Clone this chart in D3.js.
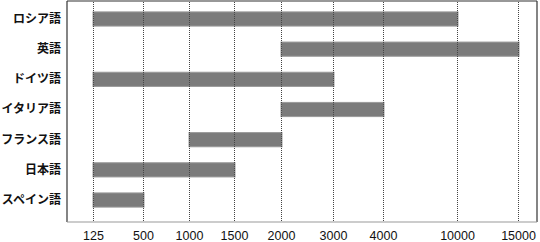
<!DOCTYPE html>
<html>
<head>
<meta charset="utf-8">
<script src="https://cdn.jsdelivr.net/npm/d3@7/dist/d3.min.js"></script>
<style>
html,body{margin:0;padding:0;background:#fff;}
svg{display:block;}
</style>
</head>
<body>
<svg id="chart" width="540" height="242"></svg>
<script>
// ---- data ----
const languages = ["ロシア語","英語","ドイツ語","イタリア語","フランス語","日本語","スペイン語"];
const lowValues  = [125, 2000, 125, 2000, 1000, 125, 125];
const highValues = [10000, 15000, 3000, 4000, 2000, 1500, 500];
const tickValues = [125, 500, 1000, 1500, 2000, 3000, 4000, 10000, 15000];

// ---- layout ----
const W = 540, H = 242;
const box = {left: 67, right: 537, top: 1, bottom: 222};
const xStart = 93, xEnd = 518;
// relative spacing between consecutive ticks (layout weights, not data)
const tickWeights = [50, 46, 45, 47, 52, 50, 74, 61];

const cum = [0];
tickWeights.forEach(w => cum.push(cum[cum.length-1] + w));
const total = cum[cum.length-1];
const x = d3.scaleLinear()
  .domain(tickValues)
  .range(cum.map(c => xStart + (xEnd - xStart) * c / total));

const y = d3.scaleBand()
  .domain(languages)
  .range([3.9, 215.1])
  .paddingInner(0.53)
  .paddingOuter(0.265);

const svg = d3.select("#chart");

// plot box
svg.append("line").attr("x1", box.left).attr("x2", box.left)
  .attr("y1", box.top).attr("y2", box.bottom).attr("stroke", "#333").attr("stroke-width", 1.2);
svg.append("line").attr("x1", box.left).attr("x2", box.right)
  .attr("y1", box.top).attr("y2", box.top).attr("stroke", "#333").attr("stroke-width", 1.2);
svg.append("line").attr("x1", box.right).attr("x2", box.right)
  .attr("y1", box.top).attr("y2", box.bottom).attr("stroke", "#333").attr("stroke-width", 1.2);
svg.append("line").attr("x1", box.left).attr("x2", box.right)
  .attr("y1", box.bottom).attr("y2", box.bottom).attr("stroke", "#999").attr("stroke-width", 1.2);

// bars
const rows = languages.map((l, i) => ({lang: l, lo: lowValues[i], hi: highValues[i]}));
svg.append("g").selectAll("rect").data(rows).join("rect")
  .attr("x", d => x(d.lo))
  .attr("y", d => y(d.lang))
  .attr("width", d => x(d.hi) - x(d.lo) + 1)
  .attr("height", y.bandwidth())
  .attr("fill", "#7b7b7b")
  .attr("stroke", "#9a9a9a")
  .attr("stroke-width", 1);

// gridlines (drawn over bars)
svg.append("g").selectAll("line").data(tickValues).join("line")
  .attr("x1", d => Math.round(x(d)) + 0.5)
  .attr("x2", d => Math.round(x(d)) + 0.5)
  .attr("y1", box.top + 1)
  .attr("y2", box.bottom)
  .attr("stroke", "#444")
  .attr("stroke-width", 1)
  .attr("stroke-dasharray", "1,1");

// x axis
const xAxis = d3.axisBottom(x).tickValues(tickValues).tickFormat(d => String(d))
  .tickSize(0).tickPadding(9);
const gx = svg.append("g").attr("transform", `translate(0,${box.bottom})`).call(xAxis);
gx.select(".domain").remove();
gx.selectAll("text")
  .attr("font-family", "'Liberation Sans', Arial, sans-serif")
  .attr("font-size", 12.5)
  .attr("fill", "#111");

// y labels
const yAxis = d3.axisLeft(y).tickSize(0).tickPadding(6);
const gy = svg.append("g").attr("transform", `translate(${box.left},0)`).call(yAxis);
gy.select(".domain").remove();
gy.selectAll("text")
  .attr("font-family", "'Noto Sans CJK JP', sans-serif")
  .attr("font-size", 12)
  .attr("font-weight", "bold")
  .attr("fill", "#111");
</script>
</body>
</html>
